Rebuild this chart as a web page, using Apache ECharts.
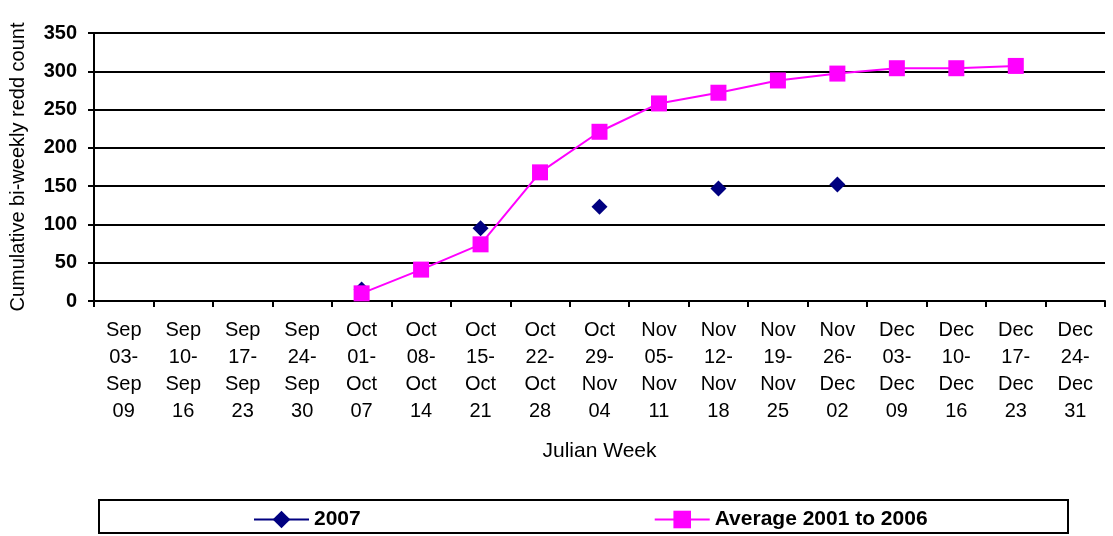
<!DOCTYPE html>
<html><head><meta charset="utf-8">
<script src="https://cdn.jsdelivr.net/npm/echarts@6/dist/echarts.min.js"></script>
<style>html,body{margin:0;padding:0;background:#fff}#c{width:1113px;height:536px}</style>
</head><body><div id="c"></div>
<script>
const categories = ["Sep\n03-\nSep\n09","Sep\n10-\nSep\n16","Sep\n17-\nSep\n23","Sep\n24-\nSep\n30","Oct\n01-\nOct\n07","Oct\n08-\nOct\n14","Oct\n15-\nOct\n21","Oct\n22-\nOct\n28","Oct\n29-\nNov\n04","Nov\n05-\nNov\n11","Nov\n12-\nNov\n18","Nov\n19-\nNov\n25","Nov\n26-\nDec\n02","Dec\n03-\nDec\n09","Dec\n10-\nDec\n16","Dec\n17-\nDec\n23","Dec\n24-\nDec\n31"];
const series2007 = [null,null,null,null,15,null,95,null,123,null,147,null,152,null,null,null,null];
const seriesAvg = [null,null,null,null,10,41,74,168,221,258,272,288,297,304,304,307,null];
const yTicks = {min:0,max:350,interval:50};

const chart = echarts.init(document.getElementById('c'));
chart.setOption({
  animation:false,
  textStyle:{fontFamily:'Liberation Sans, Arial, sans-serif'},
  grid:{left:94,right:8,top:33,bottom:235},
  xAxis:{
    type:'category',data:categories,boundaryGap:true,
    name:'Julian Week',nameLocation:'middle',nameGap:140,
    nameTextStyle:{fontSize:21,color:'#000'},
    axisLine:{lineStyle:{color:'#000',width:2}},
    axisTick:{show:true,length:6,lineStyle:{color:'#000',width:2},alignWithLabel:false},
    axisLabel:{color:'#000',fontSize:20,lineHeight:27,interval:0,margin:16}
  },
  yAxis:{
    type:'value',min:yTicks.min,max:yTicks.max,interval:yTicks.interval,
    name:'Cumulative bi-weekly redd count',nameLocation:'middle',nameGap:66,
    nameTextStyle:{fontSize:20,color:'#000'},
    axisLine:{show:true,lineStyle:{color:'#000',width:2}},
    axisTick:{show:true,length:6,lineStyle:{color:'#000',width:2}},
    axisLabel:{color:'#000',fontSize:20,fontWeight:'bold',margin:17},
    splitLine:{lineStyle:{color:'#000',width:2}}
  },
  legend:{
    left:248,top:504,itemWidth:55,itemHeight:22,itemGap:293,
    textStyle:{fontSize:21,fontWeight:'bold',color:'#000'},
    data:['2007','Average 2001 to 2006']
  },
  graphic:[{type:'rect',shape:{x:99,y:500,width:969,height:33},style:{fill:'none',stroke:'#000',lineWidth:2},silent:true}],
  series:[
    {name:'2007',type:'line',data:series2007,connectNulls:false,symbol:'diamond',symbolSize:16,
     itemStyle:{color:'#000080'},lineStyle:{color:'#000080',width:2},z:2},
    {name:'Average 2001 to 2006',type:'line',data:seriesAvg,connectNulls:false,symbol:'rect',symbolSize:16,
     itemStyle:{color:'#ff00ff'},lineStyle:{color:'#ff00ff',width:2},z:3}
  ]
});
</script></body></html>
